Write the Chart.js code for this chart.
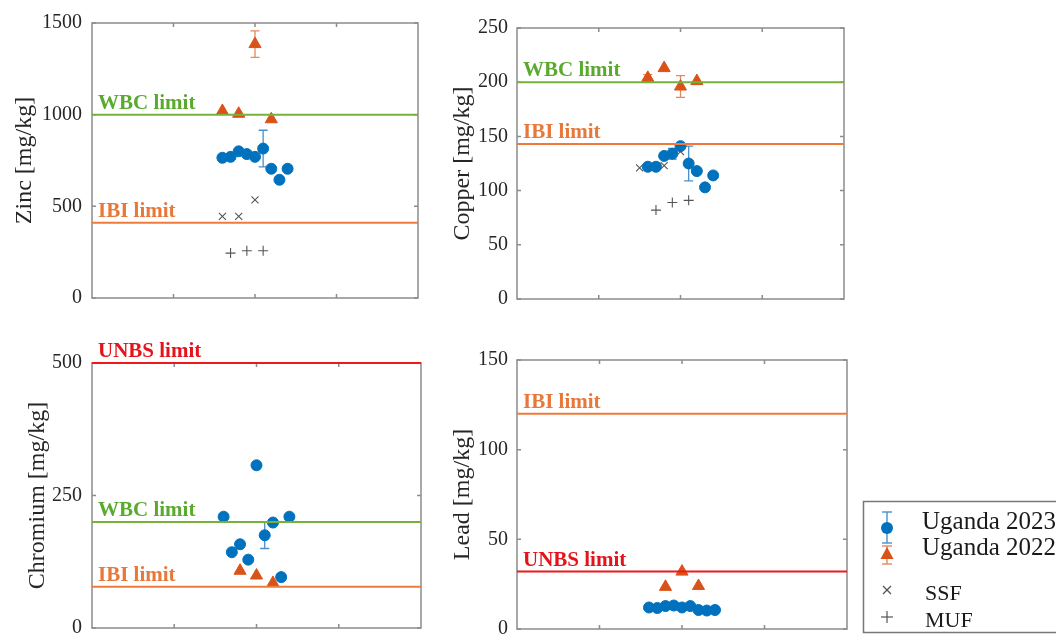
<!DOCTYPE html>
<html>
<head>
<meta charset="utf-8">
<script src="https://cdn.jsdelivr.net/npm/chart.js@4.4.1/dist/chart.umd.min.js"></script>
<style>
  body { margin: 0; width: 1056px; height: 644px; overflow: hidden; background: #fff; position: relative; font-family: "Liberation Serif", "Times New Roman", serif; }
  canvas { position: absolute; }
  .lg { position: absolute; line-height: 1; color: #1a1a1a; white-space: nowrap; }
</style>
</head>
<body>
<canvas id="zinc" width="440" height="320" style="left:0;top:0"></canvas>
<canvas id="copper" width="420" height="320" style="left:440px;top:0"></canvas>
<canvas id="chromium" width="440" height="330" style="left:0;top:320px"></canvas>
<canvas id="lead" width="420" height="330" style="left:440px;top:320px"></canvas>

<!-- legend -->
<svg width="1056" height="644" style="position:absolute;left:0;top:0">
  <rect x="863.5" y="501.5" width="220" height="131" fill="none" stroke="#777" stroke-width="1.5"/>
  <g stroke="#4a90cc" stroke-width="1.4">
    <line x1="887" y1="512" x2="887" y2="543"/>
    <line x1="882" y1="512" x2="892" y2="512"/>
    <line x1="882" y1="543" x2="892" y2="543"/>
  </g>
  <circle cx="887" cy="528" r="6" fill="#0072BD"/>
  <g stroke="#e8875a" stroke-width="1.4">
    <line x1="887" y1="546" x2="887" y2="564"/>
    <line x1="882" y1="546" x2="892" y2="546"/>
    <line x1="882" y1="564" x2="892" y2="564"/>
  </g>
  <polygon points="887,547 893.5,559 880.5,559" fill="#D95319"/>
  <g stroke="#555" stroke-width="1.2">
    <line x1="883" y1="586" x2="891" y2="594"/>
    <line x1="883" y1="594" x2="891" y2="586"/>
    <line x1="881" y1="617" x2="893" y2="617"/>
    <line x1="887" y1="611" x2="887" y2="623"/>
  </g>
</svg>
<div class="lg" style="left:922px;top:508px;font-size:25px">Uganda 2023</div>
<div class="lg" style="left:922px;top:534px;font-size:25px">Uganda 2022</div>
<div class="lg" style="left:925px;top:582px;font-size:22px">SSF</div>
<div class="lg" style="left:925px;top:609px;font-size:22px">MUF</div>

<script>
// x positions of the samples (axis runs 0..4)
const xTicks = [1, 2, 3];
const pos2023 = [1.6, 1.7, 1.8, 1.9, 2.0, 2.1, 2.2, 2.3, 2.4];
const pos2022 = [1.6, 1.8, 2.0, 2.2];
const pos2022b = [1.8, 2.0, 2.2];
const posSSFzn = [1.6, 1.8, 2.0];
const posSSFcu = [1.5, 1.8, 2.0];
const posMUF = [1.7, 1.9, 2.1];

// Zinc
const zinc2023 = [765, 770, 800, 785, 770, 815, 705, 645, 705];
const zinc2023Err = [0, 0, 0, 0, 0, 100, 0, 0, 0];
const zinc2022 = [1020, 1005, 1385, 975];
const zinc2022Err = [0, 0, 72, 0];
const zincSSF = [445, 445, 535];
const zincMUF = [245, 258, 258];
const zincLimits = [["WBC limit", 1000], ["IBI limit", 411]];

// Copper
const copper2023 = [122, 122, 132, 134, 141, 125, 118, 103, 114];
const copper2023Err = [0, 0, 0, 5, 0, 16, 0, 0, 0];
const copper2022 = [204, 213, 196, 201];
const copper2022Err = [3, 0, 10, 0];
const copperSSF = [121, 123, 136];
const copperMUF = [82, 89, 91];
const copperLimits = [["WBC limit", 200], ["IBI limit", 143]];

// Chromium
const chromium2023 = [210, 143, 158, 129, 307, 175, 199, 96, 210];
const chromium2023Err = [0, 0, 0, 0, 0, 25, 0, 0, 0];
const chromium2022 = [108, 99, 85];
const chromiumLimits = [["UNBS limit", 500], ["WBC limit", 200], ["IBI limit", 78]];

// Lead
const lead2023 = [12, 11.7, 12.8, 13.1, 12, 12.8, 10.6, 10.3, 10.6];
const lead2022 = [23.5, 32, 24];
const leadLimits = [["IBI limit", 120], ["UNBS limit", 32]];

const limitColors = {
  "WBC limit": { line: "#77b13a", text: "#5aaa2e" },
  "IBI limit": { line: "#f07a3a", text: "#e8783a" },
  "UNBS limit": { line: "#f01818", text: "#e4141c" }
};

Chart.defaults.font.family = '"Liberation Serif", "Times New Roman", serif';

const pts = (xs, ys) => xs.map((x, i) => ({ x: x, y: ys[i] }));

// box, inward ticks, error bars, limit labels
const matlabLook = {
  id: "matlabLook",
  beforeDatasetsDraw(chart) {
    const { ctx, chartArea: a, scales: { x, y } } = chart;
    ctx.save();
    ctx.strokeStyle = "#8c8c8c";
    ctx.lineWidth = 1.5;
    ctx.strokeRect(a.left, a.top, a.right - a.left, a.bottom - a.top);
    ctx.beginPath();
    xTicks.forEach(v => {
      const px = x.getPixelForValue(v);
      ctx.moveTo(px, a.bottom); ctx.lineTo(px, a.bottom - 4);
      ctx.moveTo(px, a.top); ctx.lineTo(px, a.top + 4);
    });
    y.ticks.forEach(t => {
      const py = y.getPixelForValue(t.value);
      ctx.moveTo(a.left, py); ctx.lineTo(a.left + 4, py);
      ctx.moveTo(a.right, py); ctx.lineTo(a.right - 4, py);
    });
    ctx.stroke();

    chart.data.datasets.forEach(ds => {
      if (!ds.errors) return;
      ctx.strokeStyle = ds.errColor;
      ctx.lineWidth = 1.3;
      ds.data.forEach((p, i) => {
        const e = ds.errors[i];
        if (!e) return;
        const px = x.getPixelForValue(p.x);
        const y1 = y.getPixelForValue(p.y + e), y2 = y.getPixelForValue(p.y - e);
        ctx.beginPath();
        ctx.moveTo(px, y1); ctx.lineTo(px, y2);
        ctx.moveTo(px - 4.5, y1); ctx.lineTo(px + 4.5, y1);
        ctx.moveTo(px - 4.5, y2); ctx.lineTo(px + 4.5, y2);
        ctx.stroke();
      });
    });
    ctx.restore();
  },
  afterDatasetsDraw(chart) {
    const { ctx, chartArea: a, scales: { y } } = chart;
    ctx.save();
    ctx.font = 'bold 21px "Liberation Serif", serif';
    ctx.textBaseline = "alphabetic";
    chart.data.datasets.forEach(ds => {
      if (!ds.limitLabel) return;
      ctx.fillStyle = limitColors[ds.limitLabel].text;
      ctx.fillText(ds.limitLabel, a.left + 6, y.getPixelForValue(ds.data[0].y) - 6);
    });
    ctx.restore();
  }
};

function makePanel(id, cfg) {
  const datasets = [];
  cfg.limits.forEach(([name, v]) => {
    datasets.push({
      data: [{ x: 0, y: v }, { x: 4, y: v }],
      limitLabel: name,
      showLine: true,
      borderColor: limitColors[name].line,
      borderWidth: 2,
      pointRadius: 0,
      clip: false,
      order: 0
    });
  });
  datasets.push({
    data: pts(pos2023, cfg.d2023),
    errors: cfg.e2023, errColor: "#4a90cc",
    pointStyle: "circle", pointRadius: 5.5, pointBorderWidth: 1,
    pointBackgroundColor: "#0072BD", pointBorderColor: "#0072BD",
    clip: false, order: 2
  });
  datasets.push({
    data: pts(cfg.p2022, cfg.d2022),
    errors: cfg.e2022, errColor: "#e8875a",
    pointStyle: "triangle", pointRadius: 7, pointBorderWidth: 1,
    pointBackgroundColor: "#D95319", pointBorderColor: "#D95319",
    clip: false, order: 1
  });
  if (cfg.ssf) datasets.push({
    data: pts(cfg.pSSF, cfg.ssf),
    pointStyle: "crossRot", pointRadius: 5, pointBorderWidth: 1.1,
    pointBorderColor: "#555", clip: false, order: 3
  });
  if (cfg.muf) datasets.push({
    data: pts(posMUF, cfg.muf),
    pointStyle: "cross", pointRadius: 5, pointBorderWidth: 1.1,
    pointBorderColor: "#555", clip: false, order: 3
  });

  return new Chart(document.getElementById(id), {
    type: "scatter",
    data: { datasets: datasets },
    options: {
      responsive: false,
      animation: false,
      events: [],
      layout: { padding: cfg.pad },
      plugins: { legend: { display: false }, tooltip: { enabled: false } },
      scales: {
        x: { display: false, min: 0, max: 4 },
        y: {
          min: 0, max: cfg.max,
          ticks: { stepSize: cfg.step, padding: cfg.tickPad, color: "#262626", font: { size: 20 }, callback: v => String(v) },
          grid: { display: false, drawTicks: false },
          border: { display: false },
          title: { display: true, text: cfg.title, color: "#262626", font: { size: 24 }, padding: { top: cfg.titlePad, bottom: 0 } },
          afterFit: s => { s.width = cfg.axisW; }
        }
      }
    },
    plugins: [matlabLook]
  });
}

makePanel("zinc", {
  title: "Zinc [mg/kg]", max: 1500, step: 500,
  d2023: zinc2023, e2023: zinc2023Err, p2022: pos2022, d2022: zinc2022, e2022: zinc2022Err,
  pSSF: posSSFzn, ssf: zincSSF, muf: zincMUF, limits: zincLimits,
  pad: { left: 0, top: 23, right: 22, bottom: 17 }, axisW: 92, tickPad: 10, titlePad: 10
});
makePanel("copper", {
  title: "Copper [mg/kg]", max: 250, step: 50,
  d2023: copper2023, e2023: copper2023Err, p2022: pos2022, d2022: copper2022, e2022: copper2022Err,
  pSSF: posSSFcu, ssf: copperSSF, muf: copperMUF, limits: copperLimits,
  pad: { left: 0, top: 28, right: 16, bottom: 18 }, axisW: 77, tickPad: 9, titlePad: 8
});
makePanel("chromium", {
  title: "Chromium [mg/kg]", max: 500, step: 250,
  d2023: chromium2023, e2023: chromium2023Err, p2022: pos2022b, d2022: chromium2022, e2022: null,
  limits: chromiumLimits,
  pad: { left: 0, top: 43, right: 19, bottom: 15 }, axisW: 92, tickPad: 10, titlePad: 23
});
makePanel("lead", {
  title: "Lead [mg/kg]", max: 150, step: 50,
  d2023: lead2023, e2023: null, p2022: pos2022b, d2022: lead2022, e2022: null,
  limits: leadLimits,
  pad: { left: 0, top: 40, right: 13, bottom: 16 }, axisW: 77, tickPad: 9, titlePad: 8
});
</script>
</body>
</html>
